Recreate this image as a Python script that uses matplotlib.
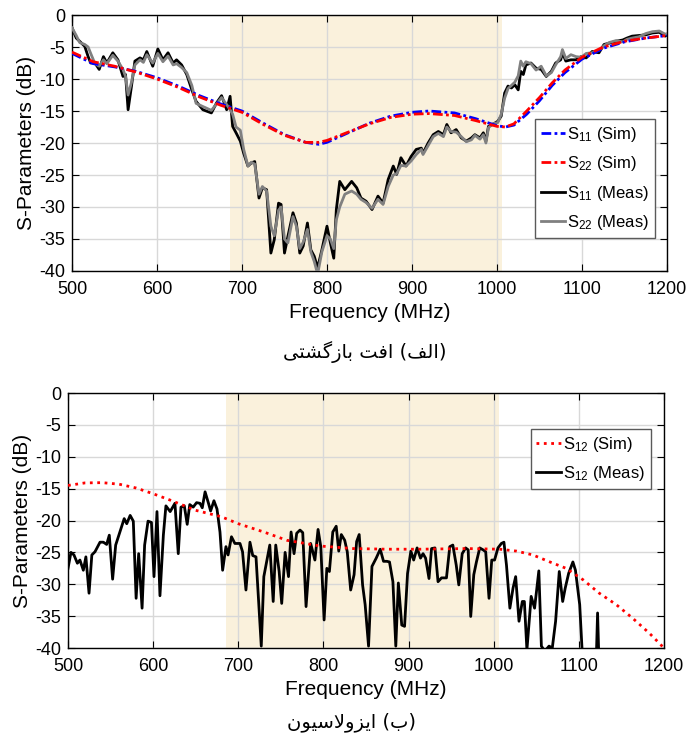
import numpy as np
import matplotlib
matplotlib.use('Agg')
import matplotlib.pyplot as plt

plt.rcParams['font.family'] = ['Liberation Sans', 'DejaVu Sans']
plt.rcParams['mathtext.fontset'] = 'custom'
plt.rcParams['mathtext.rm'] = 'Liberation Sans'
plt.rcParams['mathtext.it'] = 'Liberation Sans'

# ---------------- data: return loss (top) ----------------
f_sim = [500, 525, 550, 575, 600, 625, 650, 675, 700, 725, 750, 775, 790, 800, 825, 850,
         875, 900, 920, 950, 975, 1000, 1010, 1020, 1035, 1050, 1065, 1080, 1100, 1125,
         1150, 1175, 1200]
s11_sim = [-6.0, -7.6, -8.1, -8.8, -9.8, -11.1, -12.6, -13.9, -15.0, -16.9, -18.7, -19.9, -20.2,
           -19.9, -18.4, -16.9, -15.8, -15.2, -15.0, -15.3, -16.2, -17.3, -17.5, -17.2, -15.5,
           -13.4, -11.0, -9.0, -6.9, -5.2, -4.2, -3.6, -3.2]
s22_sim = [-5.8, -7.3, -8.0, -8.9, -10.0, -11.3, -12.8, -14.1, -15.2, -17.1, -18.8, -19.9, -19.9,
           -19.6, -18.3, -17.0, -16.0, -15.5, -15.4, -15.7, -16.5, -17.4, -17.5, -17.0, -15.0,
           -12.9, -10.6, -8.6, -6.6, -5.0, -4.1, -3.6, -3.2]

f_meas = [500, 505, 509, 515, 519, 522, 527, 532, 537, 541, 548, 554, 560, 563, 566, 570,
          574, 580, 584, 588, 595, 601, 607, 613, 619, 623, 629, 635, 641, 646, 654, 664,
          670, 676, 682, 686, 689, 693, 698, 702, 707, 711, 715, 720, 724, 729, 734, 738,
          743, 746, 750, 754, 760, 764, 768, 772, 777, 781, 785, 789, 794, 800, 804, 808,
          811, 815, 821, 829, 835, 840, 846, 853, 860, 866, 872, 878, 882, 887, 893, 899,
          905, 911, 913, 919, 925, 931, 937, 941, 946, 952, 958, 964, 970, 974, 980, 984,
          987, 990, 995, 1001, 1005, 1009, 1013, 1017, 1021, 1025, 1028, 1031, 1034, 1040,
          1046, 1052, 1058, 1064, 1069, 1075, 1077, 1081, 1087, 1093, 1099, 1105, 1112, 1120,
          1126, 1132, 1140, 1148, 1153, 1159, 1167, 1175, 1183, 1191, 1198, 1200]
s11_meas = [-2.0, -3.6, -4.1, -4.9, -6.5, -7.5, -7.5, -8.5, -6.5, -7.5, -5.9, -7.0, -9.6, -9.3,
            -14.8, -11.1, -7.2, -6.7, -7.0, -5.7, -8.0, -5.3, -7.0, -5.9, -7.5, -7.0, -7.8,
            -9.3, -11.7, -13.5, -14.8, -15.3, -13.75, -12.6, -14.8, -12.7, -17.4, -18.4,
            -19.7, -21.6, -23.6, -23.1, -22.9, -28.6, -27.0, -27.3, -37.2, -35.1, -29.4,
            -29.6, -37.2, -34.6, -30.9, -32.5, -37.2, -36.1, -32.5, -36.7, -37.7, -39.5,
            -36.7, -33.0, -35.6, -38.0, -30.4, -26.0, -27.3, -26.0, -27.0, -28.6, -29.1,
            -30.4, -28.3, -29.4, -25.7, -23.6, -24.9, -22.3, -23.6, -22.1, -21.0, -20.8,
            -21.6, -20.0, -18.7, -18.2, -18.7, -17.1, -18.4, -17.9, -19.2, -19.7, -19.2,
            -18.7, -19.2, -18.4, -19.7, -17.4, -17.1, -16.6, -15.8, -12.2, -11.1, -11.4,
            -10.9, -11.7, -8.8, -9.3, -7.8, -7.5, -8.3, -8.5, -9.6, -8.8, -7.5, -7.0, -5.9,
            -7.2, -7.0, -7.0, -6.5, -6.7, -5.7, -5.9, -4.6, -4.4, -4.1, -3.9, -3.6, -3.3,
            -3.2, -3.1, -2.8, -2.7, -3.3, -3.1]
s22_meas = [-2.0, -3.2, -4.3, -4.6, -5.0, -6.0, -7.6, -8.0, -7.0, -7.6, -6.3, -7.2, -8.5, -9.6,
            -12.5, -10.5, -7.8, -7.0, -7.4, -6.2, -7.5, -6.0, -7.3, -6.4, -7.8, -7.6, -8.2,
            -9.0, -11.0, -13.8, -14.3, -14.9, -13.9, -12.9, -14.0, -14.8, -15.5, -17.5,
            -18.0, -21.0, -23.6, -23.0, -23.3, -28.0, -26.8, -27.5, -33.0, -34.5, -30.5,
            -30.0, -35.0, -35.6, -31.5, -33.0, -36.5, -35.5, -33.5, -37.0, -38.5, -40.5,
            -37.0, -34.5, -35.0, -36.5, -32.0, -30.0, -28.0, -27.5, -28.0, -28.8, -29.3,
            -30.2, -28.8, -29.6, -26.8, -25.0, -24.8, -23.5, -23.6, -22.8, -21.8, -21.0,
            -21.8, -20.4, -19.0, -18.5, -19.0, -17.5, -18.2, -18.3, -19.0, -19.8, -19.5,
            -18.8, -19.4, -18.7, -20.0, -17.6, -17.0, -16.8, -15.5, -13.0, -11.5, -11.0,
            -10.5, -9.5, -7.2, -8.0, -7.3, -7.6, -8.6, -8.0, -9.5, -9.0, -7.8, -6.5, -5.4,
            -6.8, -6.2, -6.5, -6.6, -6.0, -5.9, -5.5, -4.8, -4.3, -4.0, -4.2, -3.8, -3.6,
            -3.4, -2.9, -2.6, -2.5, -3.0, -2.9]

# ---------------- data: isolation (bottom) ----------------
f_s12_sim = [500, 520, 540, 560, 580, 600, 620, 650, 680, 700, 730, 757, 796, 835, 875, 914,
             968, 1007, 1027, 1046, 1066, 1085, 1105, 1124, 1144, 1163, 1183, 1200]
s12_sim = [-14.5, -14.1, -14.06, -14.3, -14.9, -15.8, -16.8, -18.4, -19.4, -20.5, -21.8, -23.1,
           -24.0, -24.4, -24.5, -24.5, -24.4, -24.5, -24.8, -25.4, -26.5, -27.5, -29.3, -31.4,
           -33.2, -35.3, -37.7, -40.0]

f_s12_meas = [500, 503.5, 507, 511, 514, 518, 521, 524.7, 528, 531.7, 537.6, 541.5, 545.4, 548.5,
              552.4, 556, 561, 566, 569, 573, 576.7, 580, 583, 587, 590, 594, 598, 601, 604.5,
              608, 612, 615, 620, 625.6, 629.5, 632.7, 636.6, 640, 643, 647, 651, 655, 657.7,
              661, 665, 667.5, 671.4, 675, 678.5, 681.6, 685.5, 688, 692, 696, 702, 705, 709,
              713.7, 717, 720.8, 727, 730, 737, 741, 744, 748, 751, 755, 759, 762, 765.5,
              768.6, 772.5, 775.7, 779.6, 785, 790, 793.7, 796.9, 800.8, 804, 807, 811, 815,
              818, 821, 825, 828, 832, 836, 839, 842, 846, 849, 853, 857, 862, 866.7, 870.6,
              874.5, 877.6, 881.6, 885, 888, 892, 895.3, 898.8, 902.7, 906, 910, 914, 917, 920,
              924, 927, 931, 934.6, 938.7, 944.5, 948.4, 952, 956, 959, 963, 967, 970, 973,
              976.6, 979.7, 983.6, 987.5, 990.6, 994.5, 997.7, 1001, 1005, 1009, 1012, 1015,
              1019, 1022.7, 1025.8, 1029.7, 1033.6, 1036, 1039, 1044, 1048, 1053, 1056, 1060,
              1065, 1068.8, 1072.7, 1077, 1081, 1084, 1088, 1093, 1096, 1101, 1104, 1112,
              1120, 1122, 1124, 1140, 1200]
s12_meas = [-27.5, -25.0, -25.4, -26.7, -26.2, -27.8, -25.7, -31.4, -25.4, -24.9, -23.4, -23.4,
            -23.75, -22.3, -29.2, -23.85, -21.8, -19.7, -20.5, -19.2, -20.1, -32.2, -25.2,
            -33.75, -23.85, -20.1, -20.3, -28.8, -18.6, -31.8, -22.3, -17.7, -18.6, -17.3,
            -25.2, -17.9, -17.7, -20.6, -17.5, -17.9, -17.2, -17.3, -18.0, -15.5, -17.3,
            -18.5, -16.9, -18.2, -21.8, -27.8, -24.1, -25.4, -22.55, -23.6, -23.6, -24.9,
            -30.9, -23.4, -25.5, -25.7, -39.7, -28.8, -23.85, -32.7, -23.85, -28.0, -33.0,
            -25.0, -28.8, -21.8, -25.2, -22.0, -21.5, -21.9, -33.5, -23.6, -26.2, -21.4,
            -24.1, -35.6, -27.5, -28.0, -21.8, -20.9, -24.8, -22.2, -23.1, -24.9, -30.9,
            -28.5, -23.3, -22.2, -30.1, -33.2, -39.7, -27.2, -25.9, -24.5, -26.4, -26.4,
            -26.5, -29.6, -39.7, -29.8, -36.4, -36.6, -28.3, -24.8, -26.2, -24.3, -25.9,
            -25.2, -25.9, -29.1, -24.4, -24.3, -29.6, -29.0, -29.0, -24.1, -23.85, -27.0,
            -30.1, -25.2, -24.3, -24.6, -35.05, -28.5, -26.5, -24.3, -24.6, -24.9, -32.2,
            -26.2, -26.2, -24.3, -23.6, -23.4, -27.0, -33.75, -30.6, -28.8, -35.8, -32.7,
            -32.7, -40.3, -31.9, -33.75, -27.9, -39.7, -40.5, -39.7, -40.0, -35.8, -28.0,
            -32.7, -30.6, -28.3, -26.5, -27.8, -33.2, -40.8, -44.0, -44.0, -34.5, -44.0,
            -45.0, -45.0]

band = (686, 1006)
xticks = [500, 600, 700, 800, 900, 1000, 1100, 1200]
yticks = [0, -5, -10, -15, -20, -25, -30, -35, -40]
caption_a = '(الف) افت بازگشتی'
caption_b = '(ب) ایزولاسیون'


# matplotlib does no Arabic shaping, so pick presentation forms by hand
FORMS = {  # isolated, final, initial, medial
    'ا': ('\uFE8D', '\uFE8E', None, None),
    'ب': ('\uFE8F', '\uFE90', '\uFE91', '\uFE92'),
    'ت': ('\uFE95', '\uFE96', '\uFE97', '\uFE98'),
    'ز': ('\uFEAF', '\uFEB0', None, None),
    'س': ('\uFEB1', '\uFEB2', '\uFEB3', '\uFEB4'),
    'ش': ('\uFEB5', '\uFEB6', '\uFEB7', '\uFEB8'),
    'ف': ('\uFED1', '\uFED2', '\uFED3', '\uFED4'),
    'ل': ('\uFEDD', '\uFEDE', '\uFEDF', '\uFEE0'),
    'ن': ('\uFEE5', '\uFEE6', '\uFEE7', '\uFEE8'),
    'و': ('\uFEED', '\uFEEE', None, None),
    'گ': ('\uFB92', '\uFB93', '\uFB94', '\uFB95'),
    'ی': ('\uFBFC', '\uFBFD', '\uFBFE', '\uFBFF'),
}


def shape_fa(text):
    out = []
    i = 0
    prev_joins = False
    while i < len(text):
        c = text[i]
        nxt = text[i + 1] if i + 1 < len(text) else ''
        if c == 'ل' and nxt == 'ا':
            out.append('\uFEFC' if prev_joins else '\uFEFB')
            prev_joins = False
            i += 2
            continue
        if c in FORMS:
            iso, fin, ini, med = FORMS[c]
            joins_next = ini is not None and nxt in FORMS
            if prev_joins and joins_next:
                g = med
            elif prev_joins:
                g = fin
            elif joins_next:
                g = ini
            else:
                g = iso
            out.append(g)
            prev_joins = ini is not None
        else:
            out.append(c)
            prev_joins = False
        i += 1
    vis = ''.join(out)[::-1]
    return vis.translate(str.maketrans('()', ')('))


fig = plt.figure(figsize=(6.89, 7.40), dpi=100)
ax1 = fig.add_axes([0.1045, 0.6338, 0.8635, 0.3459])
ax2 = fig.add_axes([0.0987, 0.1243, 0.8650, 0.3446])

dashdot = (0, (3.5, 1.2, 1, 1.2))

for ax in (ax1, ax2):
    ax.axvspan(band[0], band[1], color='#FAF1DC', lw=0, zorder=0)
    ax.set_xlim(500, 1200)
    ax.set_ylim(-40, 0)
    ax.set_xticks(xticks)
    ax.set_yticks(yticks)
    ax.set_yticklabels([str(t) for t in yticks])
    ax.grid(True, color='#d8d8d8', lw=1)
    ax.tick_params(direction='in', top=True, right=True, length=5, labelsize=13)
    ax.tick_params(axis='x', pad=7)
    ax.tick_params(axis='y', pad=5)
    ax.set_xlabel('Frequency (MHz)', fontsize=15, labelpad=4)
    ax.set_ylabel('S-Parameters (dB)', fontsize=15, labelpad=2)
    for s in ax.spines.values():
        s.set_linewidth(1.0)

leg_kw = dict(fontsize=12, fancybox=False, framealpha=1, edgecolor='#5a5a5a',
              handlelength=1.45, handletextpad=0.15, labelspacing=0.62, borderpad=0.35,
              borderaxespad=0)

# 上图：回波损耗
ax1.plot(f_sim, s11_sim, color='blue', ls=dashdot, lw=2, label=r'S$_{11}$ (Sim)', zorder=4)
ax1.plot(f_sim, s22_sim, color='red', ls=dashdot, lw=2, label=r'S$_{22}$ (Sim)', zorder=4)
ax1.plot(f_meas, s11_meas, color='black', lw=2, label=r'S$_{11}$ (Meas)', zorder=3)
ax1.plot(f_meas, s22_meas, color='#808080', lw=2, label=r'S$_{22}$ (Meas)', zorder=3)
leg1 = ax1.legend(loc='lower right', bbox_to_anchor=(0.98, 0.13), **leg_kw)
leg1.get_frame().set_linewidth(1.0)

# 下图：隔离度
ax2.plot(f_s12_sim, s12_sim, color='red', ls=':', lw=2, label=r'S$_{12}$ (Sim)', zorder=4)
ax2.plot(f_s12_meas, s12_meas, color='black', lw=2, label=r'S$_{12}$ (Meas)', zorder=3)
leg2 = ax2.legend(loc='upper right', bbox_to_anchor=(0.978, 0.859), **leg_kw)
leg2.get_frame().set_linewidth(1.0)

fig.text(0.53, 0.524, shape_fa(caption_a), ha='center', va='center', fontsize=14,
         family=['DejaVu Sans'])
fig.text(0.51, 0.024, shape_fa(caption_b), ha='center', va='center', fontsize=14,
         family=['DejaVu Sans'])

fig.savefig('out.png', dpi=100)
